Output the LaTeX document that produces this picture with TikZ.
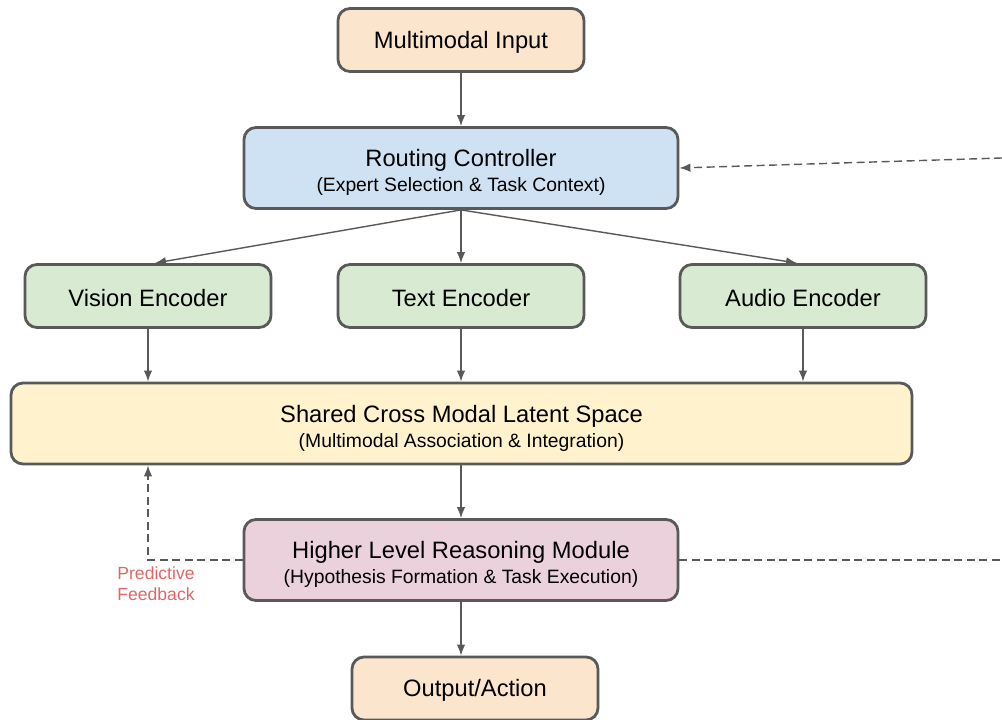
\documentclass[tikz,border=0pt]{standalone}
\usepackage{fontspec}
\setmainfont{Liberation Sans}
\usetikzlibrary{positioning}
\usetikzlibrary{arrows.meta}
\tikzset{>={Latex[width=1.7mm,length=2.2mm]}}
\definecolor{edge}{HTML}{595959}
\definecolor{peach}{HTML}{FCE5CD}
\definecolor{sky}{HTML}{CFE2F3}
\definecolor{mint}{HTML}{D9EAD3}
\definecolor{cream}{HTML}{FFF2CC}
\definecolor{rose}{HTML}{EAD1DC}
\definecolor{note}{HTML}{E06666}
\newcommand{\titlefont}{\fontsize{13.5}{15}\selectfont}
\newcommand{\subfont}{\fontsize{11}{13}\selectfont}

\begin{document}
\begin{tikzpicture}[box/.style={rectangle, rounded corners=2.4mm, draw=edge, line width=1.6pt, align=center, font=\titlefont, inner sep=0pt}, smallbox/.style={box, minimum width=4.92cm, minimum height=1.26cm, text height=12pt}, widebox/.style={box, minimum width=8.68cm, minimum height=1.62cm}, link/.style={->, draw=edge, line width=0.8pt}, backlink/.style={link, dash pattern=on 1.6mm off 0.9mm}]
    \useasboundingbox (0,0) rectangle (20.04,-14.38);

    %Nodes
    \node[smallbox, fill=peach](input) at (9.22,-0.80){Multimodal Input};
    \node[widebox, fill=sky](router) at (9.22,-3.36){\rule{0pt}{1.1em}Routing Controller\\[-0.8pt]{\subfont (Expert Selection \& Task Context)}};
    \node[smallbox, fill=mint](vision) at (2.96,-5.92){Vision Encoder};
    \node[smallbox, fill=mint](text) at (9.22,-5.92){Text Encoder};
    \node[smallbox, fill=mint](audio) at (16.06,-5.92){Audio Encoder};
    \node[box, fill=cream, minimum width=18.02cm, minimum height=1.62cm](latent) at (9.23,-8.47){\rule{0pt}{1.1em}Shared Cross Modal Latent Space\\[-0.8pt]{\subfont (Multimodal Association \& Integration)}};
    \node[widebox, fill=rose](reason) at (9.22,-11.20){\rule{0pt}{1.1em}Higher Level Reasoning Module\\[-0.8pt]{\subfont (Hypothesis Formation \& Task Execution)}};
    \node[smallbox, fill=peach](output) at (9.50,-13.77){Output/Action};
    \node[text=note, align=center, font=\fontsize{10}{12}\selectfont](feedback) at (3.12,-11.67){Predictive\\Feedback};
    \coordinate (loopin) at (20.04,-3.16);
    \coordinate (loopout) at (20.04,-11.20);

    %Lines
    \draw[link] (input.south) -- (router.north);
    \draw[link] (router.south) -- ([xshift=0.14cm]vision.north);
    \draw[link] (router.south) -- (text.north);
    \draw[link] (router.south) -- ([xshift=-0.12cm]audio.north);
    \draw[link] (vision.south) -- (vision.south |- latent.north);
    \draw[link] (text.south) -- (text.south |- latent.north);
    \draw[link] (audio.south) -- (audio.south |- latent.north);
    \draw[link] (latent.south -| reason.north) -- (reason.north);
    \draw[link] (reason.south) -- (reason.south |- output.north);
    \draw[backlink] (reason.west) -| (latent.south -| vision.south);
    \draw[backlink] (loopin) -- (router.east);
    \draw[backlink, -] (reason.east) -- (loopout);

\end{tikzpicture}
\end{document}
